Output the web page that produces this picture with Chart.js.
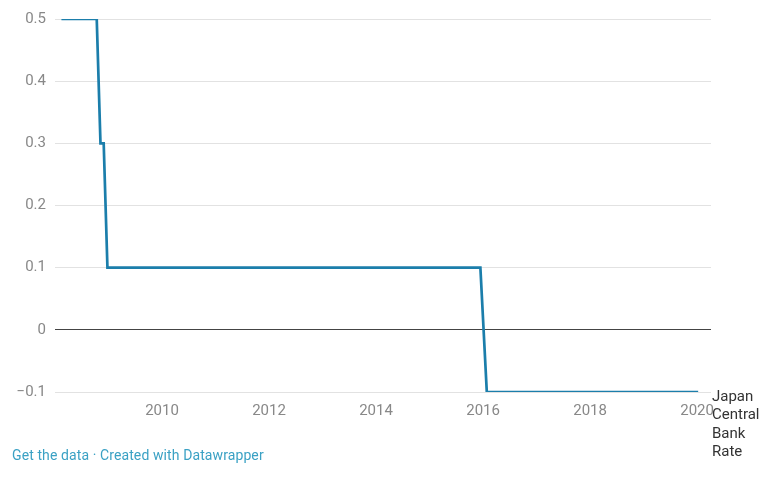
<!DOCTYPE html>
<html>
<head>
<meta charset="utf-8">
<script src="https://cdn.jsdelivr.net/npm/chart.js@4/dist/chart.umd.min.js"></script>
<style>
    body { margin: 0; background: #fff; font-family: Roboto, sans-serif; }
    #wrap { position: relative; width: 780px; height: 477px; }
    #footer { position: absolute; left: 12px; top: 447px; font-size: 14px; letter-spacing: 0.1px; color: #3aa1c4; }
</style>
</head>
<body>
<div id="wrap">
    <canvas id="rateChart" width="780" height="477"></canvas>
    <div id="footer">Get the data · Created with Datawrapper</div>
</div>
<script>
// Japan central bank policy rate, dates as decimal years
const dates = [2008.12, 2008.78, 2008.85, 2008.91, 2008.98, 2015.95, 2016.07, 2020.02];
const rates = [0.5, 0.5, 0.3, 0.3, 0.1, 0.1, -0.1, -0.1];
const yearTicks = [2010, 2012, 2014, 2016, 2018, 2020];
const rateTicks = [-0.1, 0, 0.1, 0.2, 0.3, 0.4, 0.5];
const seriesLabel = ['Japan', 'Central', 'Bank', 'Rate'];

const points = dates.map((d, i) => ({ x: d, y: rates[i] }));

// Draw the series name to the right of the last point
const endLabel = {
    id: 'endLabel',
    afterDatasetsDraw(chart) {
        const ctx = chart.ctx;
        const meta = chart.getDatasetMeta(0);
        const last = meta.data[meta.data.length - 1];
        ctx.save();
        ctx.font = '15px Roboto, sans-serif';
        ctx.fillStyle = '#333';
        ctx.textBaseline = 'middle';
        seriesLabel.forEach((line, i) => {
            ctx.fillText(line, chart.chartArea.right + 1, last.y + 5 + i * 18.5);
        });
        ctx.restore();
    }
};

const ctx = document.getElementById('rateChart').getContext('2d');
const rateChart = new Chart(ctx, {
    type: 'line',
    data: {
        datasets: [{
            label: 'Japan Central Bank Rate',
            data: points,
            borderColor: '#1b7eab',
            borderWidth: 2.7,
            pointRadius: 0,
            tension: 0
        }]
    },
    options: {
        responsive: false,
        animation: false,
        layout: { padding: { top: 19, right: 69, bottom: 55, left: 0 } },
        plugins: { legend: { display: false }, tooltip: { enabled: false } },
        scales: {
            x: {
                type: 'linear',
                min: 2008,
                max: 2020.26,
                afterBuildTicks(scale) {
                    scale.ticks = yearTicks.map(v => ({ value: v }));
                },
                afterFit(scale) { scale.height = 30; },
                grid: { display: false },
                border: { display: false },
                ticks: {
                    color: '#888',
                    font: { family: 'Roboto', size: 15 },
                    padding: 2,
                    maxRotation: 0,
                    callback: v => String(v)
                }
            },
            y: {
                min: -0.1,
                max: 0.5,
                afterBuildTicks(scale) {
                    scale.ticks = rateTicks.map(v => ({ value: v }));
                },
                afterFit(scale) { scale.width = 55; },
                border: { display: false },
                grid: {
                    drawTicks: false,
                    color: c => (c.tick && c.tick.value === 0) ? '#444' : '#e2e2e2',
                    lineWidth: 1
                },
                ticks: {
                    color: '#888',
                    font: { family: 'Roboto', size: 15 },
                    padding: 9,
                    callback: v => {
                        const r = Math.round(v * 10) / 10;
                        if (r === 0) return '0';
                        return r < 0 ? '\u2212' + Math.abs(r) : String(r);
                    }
                }
            }
        }
    },
    plugins: [endLabel]
});
</script>
</body>
</html>
